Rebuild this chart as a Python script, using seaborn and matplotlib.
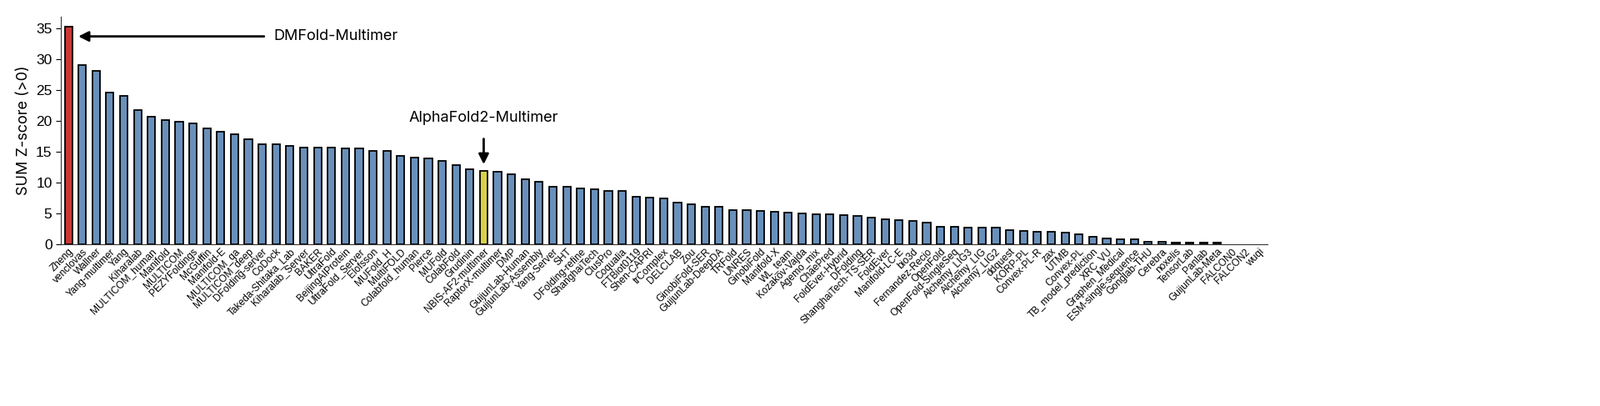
import matplotlib
matplotlib.use("Agg")
import matplotlib.pyplot as plt
import seaborn as sns
import pandas as pd

groups = ["Zheng","venclovas","Wallner","Yang-multimer","Yang","Kiharalab","MULTICOM_human","Manifold",
"MULTICOM","PEZYFoldings","McGuffin","Manifold-E","MULTICOM_qa","MULTICOM_deep","DFolding-server","CoDock",
"Takeda-Shitaka_Lab","Kiharalab_Server","BAKER","UltraFold","BeijingAIProtein","UltraFold_Server","Elofsson",
"MUFold_H","MultiFOLD","Colabfold_human","Pierce","MUFold","ColabFold","Grudinin","NBIS-AF2-multimer",
"RaptorX-multimer","DMP","GuijunLab-Human","GuijunLab-Assembly","Yang-Server","SHT","DFolding-refine",
"ShanghaiTech","ClusPro","Coqualia","FTBiot0119","Shen-CAPRI","trComplex","DELCLAB","Zou","GinobiFold-SER",
"GuijunLab-DeepDA","TRFold","UNRES","GinobiFold","Manifold-X","WL_team","Kozakov-Vajda","Agemo_mix","ChaePred",
"FoldEver-Hybrid","DFolding","ShanghaiTech-TS-SER","FoldEver","Manifold-LC-E","bio3d","Fernandez-Recio",
"OpenFold","OpenFold-SingleSeq","Alchemy_LIG3","Alchemy_LIG","Alchemy_LIG2","ddquest","KORP-PL","Convex-PL-R",
"zax","UTMB","Convex-PL","TB_model_prediction","XRC_VU","Graphen_Medical","ESM-single-sequence","Gonglab-THU",
"Cerebra","noxelis","TensorLab","Panlab","GuijunLab-Meta","FALCON0","FALCON2","wuqi"]
scores = [35.3,29.1,28.1,24.6,24.1,21.8,20.7,20.2,19.9,19.6,18.8,18.3,17.9,17.0,16.2,16.2,15.9,15.7,15.7,15.7,
15.6,15.6,15.2,15.1,14.3,14.1,14.0,13.5,12.8,12.2,11.9,11.8,11.4,10.5,10.2,9.4,9.3,9.1,8.9,8.7,8.6,7.7,7.6,
7.5,6.8,6.5,6.1,6.1,5.6,5.5,5.4,5.3,5.2,5.0,4.9,4.85,4.7,4.6,4.3,4.1,3.9,3.8,3.5,2.8,2.8,2.7,2.7,2.7,2.3,2.2,
2.0,2.0,1.9,1.7,1.2,1.0,0.85,0.8,0.45,0.45,0.3,0.25,0.25,0.25,0,0,0]

df = pd.DataFrame({"group": groups, "score": scores})
colors = ["#5b8fc9"] * len(groups)
colors[0] = "#e3211c"
colors[groups.index("NBIS-AF2-multimer")] = "#f2e530"

fig = plt.figure(figsize=(19.2, 4.87), dpi=100)
ax = fig.add_axes([0.038, 0.398, 0.754, 0.561])
sns.barplot(data=df, x="group", y="score", hue="group", palette=colors, legend=False,
            edgecolor="black", linewidth=1.3, width=0.55, ax=ax)
for p in ax.patches:
    if p.get_height() == 0:
        p.set_linewidth(0)
ax.set_xlim(-0.55, 86.6)
ax.set_ylim(0, 36.9)
ax.set_yticks([0,5,10,15,20,25,30,35])
ax.tick_params(axis="y", labelsize=12.5, length=4)
ax.tick_params(axis="x", length=0, pad=2)
ax.set_xticks(range(len(groups)))
ax.set_xticklabels(groups, rotation=45, ha="right", rotation_mode="anchor", fontsize=8.6,
                   fontfamily="Liberation Sans")
for t in ax.get_yticklabels():
    t.set_fontfamily("Liberation Sans")
ax.set_xlabel("")
ax.set_ylabel("SUM Z-score (>0)", fontsize=13, fontfamily="Inter")
sns.despine(ax=ax)
ax.spines["left"].set_color("#333333")
ax.spines["bottom"].set_color("#333333")

ax.annotate("DMFold-Multimer", xy=(0.55, scores[0] - 1.6), xytext=(14.8, scores[0] - 1.6),
            fontsize=13, fontfamily="Inter", va="center", ha="left",
            arrowprops=dict(arrowstyle="-|>", color="black", lw=2, mutation_scale=18, shrinkA=6))
i = groups.index("NBIS-AF2-multimer")
ax.annotate("AlphaFold2-Multimer", xy=(i, scores[i] + 0.7), xytext=(i, scores[i] + 8.6),
            fontsize=13, fontfamily="Inter", va="center", ha="center",
            arrowprops=dict(arrowstyle="-|>", color="black", lw=2, mutation_scale=18, shrinkA=10))
fig.savefig("out.png", dpi=100)
